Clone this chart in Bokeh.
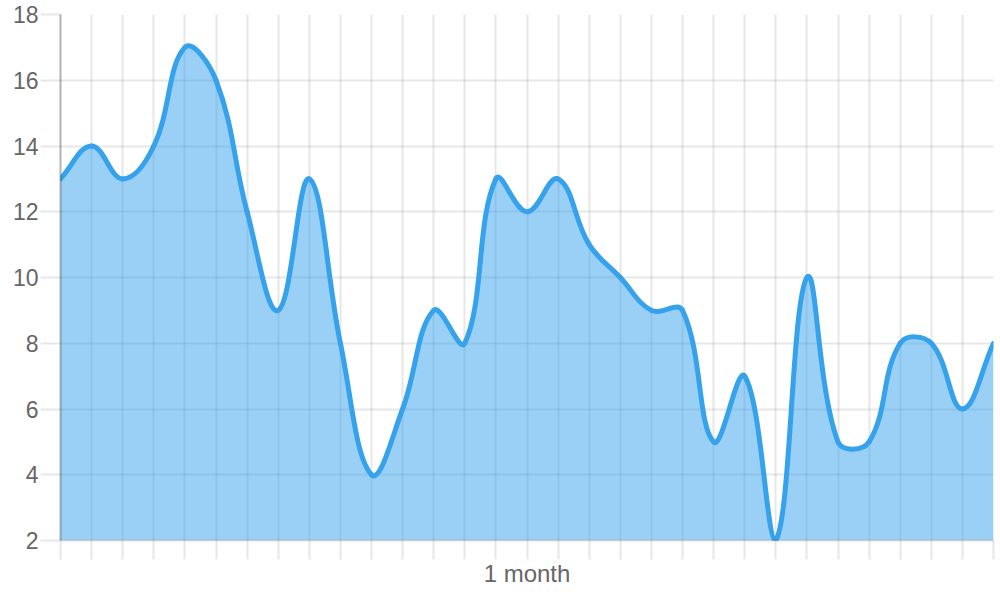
import math
from bokeh.plotting import figure
from bokeh.models import Range1d, FixedTicker
from bokeh.embed import file_html
from bokeh.resources import INLINE

# ---- data ----
days = list(range(31))
values = [13, 14, 13, 14, 17, 16, 12, 9, 13, 8, 4, 6, 9, 8, 13, 12, 13, 11,
          10, 9, 9, 5, 7, 2, 10, 5, 5, 8, 8, 6, 8]
y_ticks = [2, 4, 6, 8, 10, 12, 14, 16, 18]
x_label = "1 month"

LINE = "#36A2EB"
FILL = "rgba(54,162,235,0.5)"
TXT = "#666666"
GRID = "rgba(0,0,0,0.095)"

# plot-area geometry (pixels), used only to shape the curve like Chart.js
FRAME_W, FRAME_H = 933, 526
X0, X1 = days[0], days[-1]
Y0, Y1 = y_ticks[0], y_ticks[-1]
SX = FRAME_W / (X1 - X0)
SY = FRAME_H / (Y1 - Y0)


def tension_controls(xs, ys, t=0.4):
    """Chart.js (v2) cardinal-spline control points, capped to the chart area."""
    px = [(x - X0) * SX for x in xs]
    py = [(y - Y0) * SY for y in ys]
    n = len(px)
    prev_c, next_c = [], []
    for i in range(n):
        a = (px[i - 1], py[i - 1]) if i > 0 else (px[i], py[i])
        b = (px[i], py[i])
        c = (px[i + 1], py[i + 1]) if i < n - 1 else (px[i], py[i])
        d01 = math.hypot(b[0] - a[0], b[1] - a[1])
        d12 = math.hypot(c[0] - b[0], c[1] - b[1])
        s01 = d01 / (d01 + d12) if d01 + d12 else 0
        s12 = d12 / (d01 + d12) if d01 + d12 else 0
        fa, fb = t * s01, t * s12
        pc = (b[0] - fa * (c[0] - a[0]), b[1] - fa * (c[1] - a[1]))
        nc = (b[0] + fb * (c[0] - a[0]), b[1] + fb * (c[1] - a[1]))

        def cap(pt):
            return (min(max(pt[0], 0), FRAME_W), min(max(pt[1], 0), FRAME_H))
        prev_c.append(cap(pc))
        next_c.append(cap(nc))

    def back(pt):
        return (pt[0] / SX + X0, pt[1] / SY + Y0)
    segs = []
    for i in range(n - 1):
        c0 = back(next_c[i])
        c1 = back(prev_c[i + 1])
        segs.append((xs[i], ys[i], c0[0], c0[1], c1[0], c1[1], xs[i + 1], ys[i + 1]))
    return segs


segs = tension_controls(days, values)

# outline of the filled area, following the same Bezier segments
fx, fy = [], []
for (x0, y0, c0x, c0y, c1x, c1y, x1, y1) in segs:
    for k in range(24):
        tt = k / 24
        u = 1 - tt
        fx.append(u ** 3 * x0 + 3 * u * u * tt * c0x + 3 * u * tt * tt * c1x + tt ** 3 * x1)
        fy.append(u ** 3 * y0 + 3 * u * u * tt * c0y + 3 * u * tt * tt * c1y + tt ** 3 * y1)
fx.append(days[-1])
fy.append(values[-1])

p = figure(width=1000, height=600, output_backend="svg", toolbar_location=None,
           x_range=Range1d(X0, X1), y_range=Range1d(Y0, Y1),
           min_border_left=60, min_border_right=7, min_border_top=14, min_border_bottom=60)
p.outline_line_color = None
p.background_fill_color = "white"

p.varea(x=fx, y1=[Y0] * len(fx), y2=fy, fill_color=FILL)
p.bezier(x0=[s[0] for s in segs], y0=[s[1] for s in segs],
         cx0=[s[2] for s in segs], cy0=[s[3] for s in segs],
         cx1=[s[4] for s in segs], cy1=[s[5] for s in segs],
         x1=[s[6] for s in segs], y1=[s[7] for s in segs],
         line_color=LINE, line_width=5, line_cap="round")

# grids
p.xgrid.ticker = FixedTicker(ticks=days)
p.ygrid.ticker = FixedTicker(ticks=y_ticks)
for g in (p.xgrid, p.ygrid):
    g.grid_line_color = GRID
    g.grid_line_width = 2

# x axis
xa = p.xaxis[0]
xa.ticker = FixedTicker(ticks=days)
xa.major_label_overrides = {d: "" for d in days}
xa.major_label_standoff = 0
xa.major_tick_out = 19
xa.major_tick_in = 0
xa.major_tick_line_color = GRID
xa.major_tick_line_width = 2
xa.minor_tick_line_color = None
xa.axis_line_color = "rgba(0,0,0,0.13)"
xa.axis_line_width = 2
xa.axis_label = x_label
xa.axis_label_text_font = "Liberation Sans"
xa.axis_label_text_font_size = "24px"
xa.axis_label_text_font_style = "normal"
xa.axis_label_text_color = TXT
xa.axis_label_standoff = 0

# y axis
ya = p.yaxis[0]
ya.ticker = FixedTicker(ticks=y_ticks)
ya.major_label_text_font = "Liberation Sans"
ya.major_label_text_font_size = "23px"
ya.major_label_text_color = TXT
ya.major_label_standoff = 2
ya.major_tick_out = 20
ya.major_tick_in = 0
ya.major_tick_line_color = GRID
ya.major_tick_line_width = 2
ya.minor_tick_line_color = None
ya.axis_line_color = "rgba(0,0,0,0.3)"
ya.axis_line_width = 2

open("out.html", "w").write(file_html(p, INLINE))
